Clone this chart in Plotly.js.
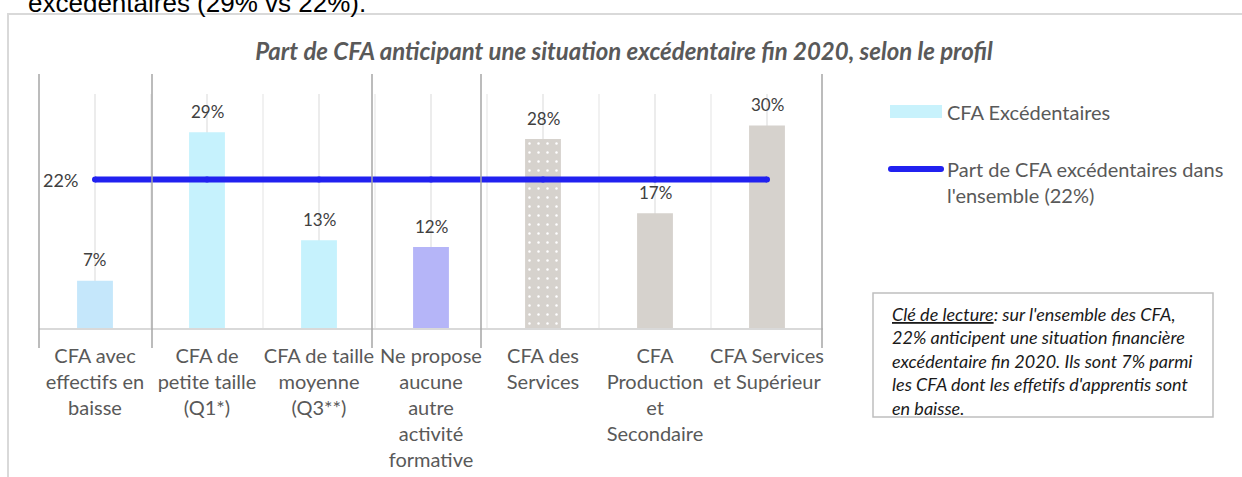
<!DOCTYPE html>
<html>
<head>
<meta charset="utf-8">
<script src="https://cdn.plot.ly/plotly-3.0.1.min.js"></script>
<style>
  html, body { margin: 0; padding: 0; background: #ffffff; }
  #chart { width: 1242px; height: 477px; }
</style>
</head>
<body>
<div id="chart"></div>
<script>
// ---------- Data ----------
const categories = [
  "CFA avec effectifs en baisse",
  "CFA de petite taille (Q1*)",
  "CFA de taille moyenne (Q3**)",
  "Ne propose aucune autre activité formative",
  "CFA des Services",
  "CFA Production et Secondaire",
  "CFA Services et Supérieur"
];
const tickLabels = [
  "CFA avec<br>effectifs en<br>baisse",
  "CFA de<br>petite taille<br>(Q1*)",
  "CFA de taille<br>moyenne<br>(Q3**)",
  "Ne propose<br>aucune<br>autre<br>activité<br>formative",
  "CFA des<br>Services",
  "CFA<br>Production<br>et<br>Secondaire",
  "CFA Services<br>et Supérieur"
];
const shareExcedentaires = [0.07, 0.29, 0.13, 0.12, 0.28, 0.17, 0.30];
const dataLabels = ["7%", "29%", "13%", "12%", "28%", "17%", "30%"];
const overallShare = [0.22, 0.22, 0.22, 0.22, 0.22, 0.22, 0.22];
const overallLabel = "22%";
const seriesNames = ["CFA Excédentaires", "Part de CFA excédentaires dans<br>l'ensemble (22%)"];
const chartTitle = "Part de CFA anticipant une situation excédentaire fin 2020, selon le profil";
const topText = "excédentaires (29% vs 22%).";
const noteLines = [
  "<u>Clé de lecture</u>: sur l'ensemble des CFA,",
  "22% anticipent une situation financière",
  "excédentaire fin 2020. Ils sont 7% parmi",
  "les CFA dont les effetifs d'apprentis sont",
  "en baisse."
];

// ---------- Styles ----------
const barColors = ["#c5e7fb", "#c6f2fd", "#c6f2fd", "#b5b5f8", "#d6d2cd", "#d6d2cd", "#d6d2cd"];
const dottedIndex = 4; // "CFA des Services" bar has a dotted fill
const lineColor = "#2121f0";
const textGray = "#595959";
const FONT = "Lato, 'Open Sans', sans-serif";

// ---------- Geometry helpers (pixel -> paper) ----------
const FIG_W = 1242, FIG_H = 477;
const L = 39, R = 823, T = 94, B = 328;
const px2x = px => (px - L) / (R - L);
const px2y = py => (B - py) / (B - T);
const yMax = (B - T) / 675; // 6.75 px per percentage point

// ---------- Traces ----------
const barTrace = {
  type: "bar",
  x: categories,
  y: shareExcedentaires,
  width: 0.32,
  marker: { color: barColors, line: { width: 0 } },
  name: seriesNames[0],
  hoverinfo: "skip",
  showlegend: false
};
// dotted overlay for the "CFA des Services" bar (same value, pattern only)
const dotTrace = {
  type: "bar",
  x: [categories[dottedIndex]],
  y: [shareExcedentaires[dottedIndex]],
  width: 0.32,
  marker: {
    color: "rgba(0,0,0,0)",
    line: { width: 0 },
    pattern: {
      shape: ".",
      fillmode: "replace",
      bgcolor: "rgba(0,0,0,0)",
      fgcolor: "#ffffff",
      fgopacity: 1,
      size: 9,
      solidity: 0.06
    }
  },
  hoverinfo: "skip",
  showlegend: false
};
const lineTrace = {
  type: "scatter",
  mode: "lines+markers",
  x: categories,
  y: overallShare,
  line: { color: lineColor, width: 6 },
  marker: { color: lineColor, size: 6 },
  name: seriesNames[1],
  hoverinfo: "skip",
  showlegend: false
};

// ---------- Shapes ----------
const shapes = [];
// outer frame
shapes.push({ type: "rect", xref: "paper", yref: "paper",
  x0: px2x(8), x1: px2x(1270), y0: px2y(14), y1: px2y(500),
  line: { color: "#d9d9d9", width: 2 }, fillcolor: "rgba(0,0,0,0)", layer: "below" });
// light boundary gridlines between categories
for (let i = 0; i < categories.length - 1; i++) {
  shapes.push({ type: "line", xref: "x", yref: "paper", x0: i + 0.5, x1: i + 0.5, y0: 0, y1: 1,
    line: { color: "#ececec", width: 1.5 }, layer: "below" });
}
// darker group separators
[39, 152, 372, 481, 822].forEach(px => {
  shapes.push({ type: "line", xref: "paper", yref: "paper", x0: px2x(px), x1: px2x(px),
    y0: px2y(348), y1: px2y(74), line: { color: "#a6a6a6", width: 1.5 }, layer: "above" });
});
// legend swatches
shapes.push({ type: "rect", xref: "paper", yref: "paper",
  x0: px2x(890), x1: px2x(942), y0: px2y(118), y1: px2y(105),
  line: { width: 0 }, fillcolor: "#c8f2fc" });
shapes.push({ type: "line", xref: "paper", yref: "paper",
  x0: px2x(891), x1: px2x(941), y0: px2y(169), y1: px2y(169),
  line: { color: lineColor, width: 6 } });
[891, 941].forEach(px => {
  shapes.push({ type: "circle", xref: "paper", yref: "paper",
    x0: px2x(px - 3), x1: px2x(px + 3), y0: px2y(172), y1: px2y(166),
    line: { width: 0 }, fillcolor: lineColor });
});
// note box
shapes.push({ type: "rect", xref: "paper", yref: "paper",
  x0: px2x(873), x1: px2x(1213), y0: px2y(417), y1: px2y(293),
  line: { color: "#bfbfbf", width: 1.5 }, fillcolor: "#ffffff" });

// ---------- Annotations ----------
const annotations = [];
// data labels above bars
categories.forEach((c, i) => {
  annotations.push({ x: c, y: shareExcedentaires[i], xref: "x", yref: "y",
    text: dataLabels[i], showarrow: false, yanchor: "middle", yshift: 21,
    font: { family: FONT, size: 17, color: "#404040" } });
});
// overall value label
annotations.push({ x: categories[0], y: overallShare[0], xref: "x", yref: "y",
  text: overallLabel, showarrow: false, xanchor: "right", xshift: -15, yanchor: "middle",
  font: { family: FONT, size: 18, color: "#404040" } });
// legend texts
annotations.push({ xref: "paper", yref: "paper", x: px2x(945), y: px2y(112),
  xanchor: "left", yanchor: "middle", align: "left", showarrow: false,
  text: seriesNames[0], font: { family: FONT, size: 20, color: textGray } });
annotations.push({ xref: "paper", yref: "paper", x: px2x(945), y: px2y(182),
  xanchor: "left", yanchor: "middle", align: "left", showarrow: false,
  text: seriesNames[1], font: { family: FONT, size: 20, color: textGray } });
// note lines
const noteY = [313.5, 337, 360.5, 384, 407.5];
noteLines.forEach((t, i) => {
  annotations.push({ xref: "paper", yref: "paper", x: px2x(890), y: px2y(noteY[i]),
    xanchor: "left", yanchor: "middle", align: "left", showarrow: false,
    text: "<i>" + t + "</i>", font: { family: FONT, size: 18, color: "#1a1a1a" } });
});
// clipped document text at the very top
annotations.push({ xref: "paper", yref: "paper", x: px2x(26), y: px2y(3),
  xanchor: "left", yanchor: "middle", showarrow: false, text: topText,
  font: { family: "'Liberation Sans', Arial, sans-serif", size: 26, color: "#000000" } });

// ---------- Layout ----------
const layout = {
  width: FIG_W, height: FIG_H,
  margin: { l: L, r: FIG_W - R, t: T, b: FIG_H - B, pad: 0 },
  paper_bgcolor: "#ffffff",
  plot_bgcolor: "#ffffff",
  font: { family: FONT, color: textGray },
  title: {
    text: "<b><i>" + chartTitle + "</i></b>",
    x: 624 / FIG_W, xanchor: "center",
    y: 1 - 52 / FIG_H, yanchor: "middle",
    font: { family: FONT, size: 24, color: textGray }
  },
  xaxis: {
    type: "category",
    range: [-0.5, categories.length - 0.5],
    tickmode: "array",
    tickvals: categories,
    ticktext: tickLabels,
    tickfont: { family: FONT, size: 20, color: textGray },
    ticks: "",
    ticklabelstandoff: 9,
    showgrid: true, gridcolor: "#ececec", gridwidth: 1.5,
    showline: true, linecolor: "#d9d9d9", linewidth: 1.5,
    zeroline: false, fixedrange: true
  },
  yaxis: {
    range: [0, yMax],
    showgrid: false, showticklabels: false, zeroline: false, showline: false,
    ticks: "", fixedrange: true
  },
  barmode: "overlay",
  shapes: shapes,
  annotations: annotations,
  showlegend: false
};

Plotly.newPlot("chart", [barTrace, dotTrace, lineTrace], layout, { displayModeBar: false, staticPlot: true });
</script>
</body>
</html>
